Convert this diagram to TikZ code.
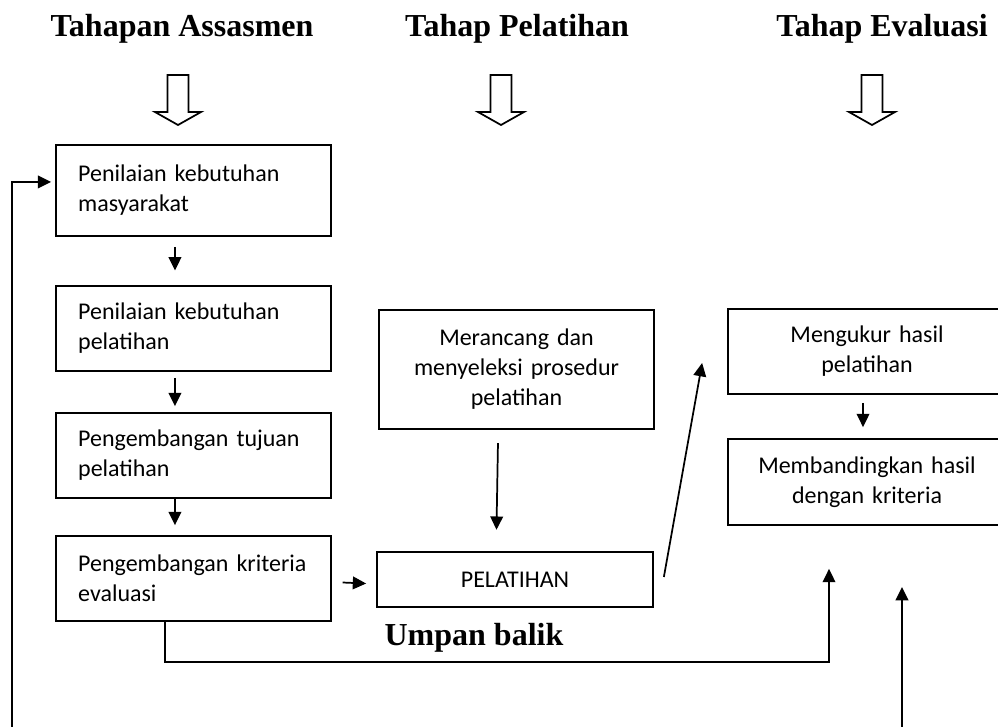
\documentclass[tikz,border=0pt]{standalone}
\usepackage{fontspec}
\setmainfont{Carlito}
\newfontfamily\headfont{Liberation Serif}
\usepackage{tikz}
\usetikzlibrary{arrows.meta}

\begin{document}
\begin{tikzpicture}[x=.75pt,y=-.75pt,>={Triangle[length=10pt,width=9.5pt]},line width=1.3pt,
  boxtext/.style={draw,rectangle,inner ysep=0pt,font=\fontsize{18}{22.5}\selectfont},
  lbox/.style={boxtext,align=left,text width=173pt,inner xsep=16.5pt,minimum width=206.25pt},
  cbox/.style={boxtext,align=center,text width=190pt,inner xsep=8pt},
  head/.style={anchor=base,inner sep=0pt,font=\headfont\bfseries\fontsize{24}{28}\selectfont},
  arr/.style={->,line width=1.3pt}]
\useasboundingbox (0,0) rectangle (998,727);
\node[head] (tAss) at (182,37) {Tahapan Assasmen};
\node[head] (tPel) at (517,37) {Tahap Pelatihan};
\node[head] (tEva) at (882,37) {Tahap Evaluasi};
\foreach \c in {178,501,872}{\draw[line width=1.3pt] (\c-10.5,75) -- (\c+10.5,75) -- (\c+10.5,112) -- (\c+23,112) -- (\c,125) -- (\c-23,112) -- (\c-10.5,112) -- cycle;}
\node[lbox,minimum height=68.25pt] (pkm) at (193.5,190.5) {Penilaian kebutuhan\\masyarakat};
\node[lbox,minimum height=63.75pt] (pkp) at (193.5,328.5) {Penilaian kebutuhan\\pelatihan};
\node[lbox,minimum height=63.75pt] (ptp) at (193.5,455.5) {Pengembangan tujuan\\pelatihan};
\node[lbox,minimum height=63.75pt] (pke) at (193.5,578.5) {Pengembangan kriteria\\evaluasi};
\node[cbox,minimum width=206.25pt,minimum height=89.25pt] (mer) at (516.5,369.5) {Merancang dan\\menyeleksi prosedur\\pelatihan};
\node[cbox,minimum width=207pt,minimum height=41.25pt] (pel) at (515,579.5) {PELATIHAN};
\node[cbox,minimum width=208.5pt,minimum height=63.75pt] (meng) at (867,351.5) {Mengukur hasil\\pelatihan};
\node[cbox,minimum width=208.5pt,minimum height=64.5pt] (memb) at (867,482) {Membandingkan hasil\\dengan kriteria};
\node[head] (umpan) at (474,645) {Umpan balik};
\draw[arr] ([xshift=-13.9pt,yshift=-7.5pt]pkm.south) -- ([xshift=-13.9pt,yshift=11pt]pkp.north);
\draw[arr] ([xshift=-13.9pt,yshift=-4.5pt]pkp.south) -- ([xshift=-13.9pt,yshift=4.5pt]ptp.north);
\draw[arr] ([xshift=-13.9pt]ptp.south) -- ([xshift=-13.9pt,yshift=7.5pt]pke.north);
\draw[arr] ([xshift=8pt,yshift=-3pt]pke.east) -- ([xshift=-7.5pt,yshift=-3pt]pel.west);
\draw[arr] ([xshift=-13.9pt,yshift=-10pt]mer.south) -- ([xshift=-13.9pt,yshift=16pt]pel.north);
\draw[arr] ([xshift=7.5pt,yshift=1.9pt]pel.east) -- ([xshift=-18.75pt,yshift=-8.6pt]meng.west);
\draw[arr] ([xshift=-3pt,yshift=-6pt]meng.south) -- ([xshift=-3pt,yshift=8.25pt]memb.north);
\draw[arr] ([xshift=-21.4pt]pke.south) -- ++(0,40) -| ([xshift=-28.5pt,yshift=-32.25pt]memb.south);
\coordinate (fbL) at (12,735);
\draw[arr] (fbL) |- ([xshift=-3pt,yshift=6.4pt]pkm.west);
\coordinate (fbR) at (902,735);
\coordinate (fbRtip) at (902,587);
\draw[arr] (fbR) -- (fbRtip);
\end{tikzpicture}
\end{document}
